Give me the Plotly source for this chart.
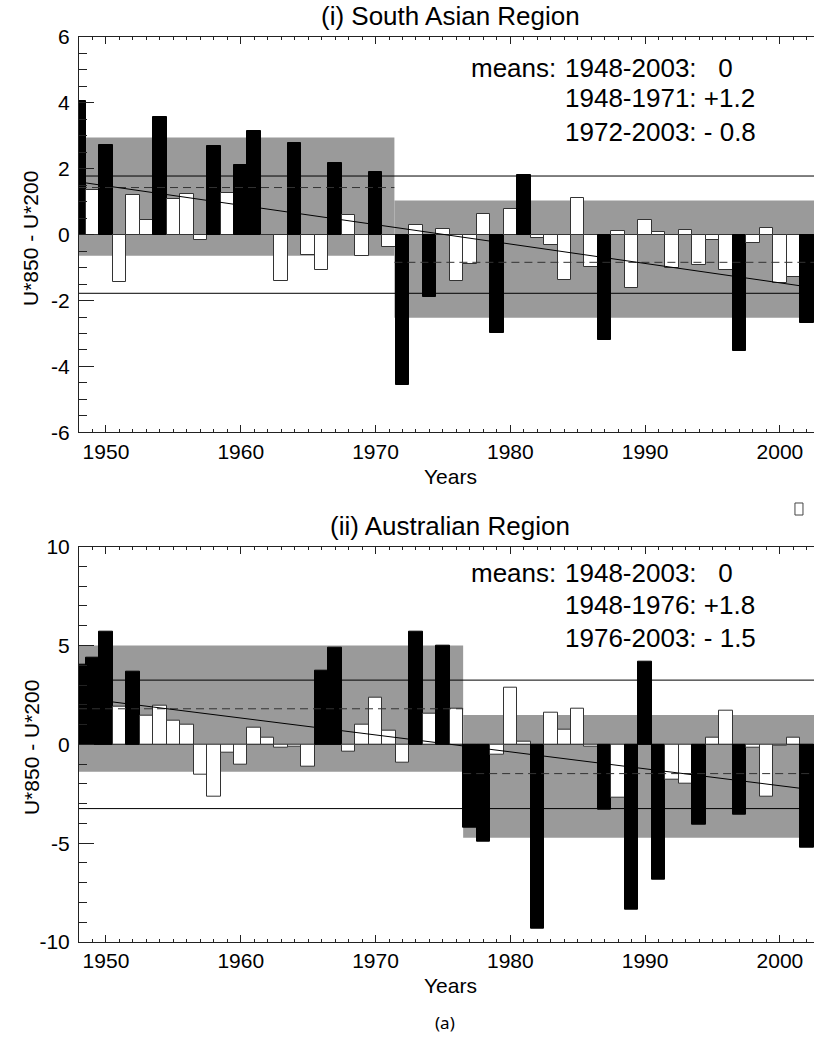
import plotly.graph_objects as go

# ---------------- data ----------------
years = list(range(1948, 2003))

sa_values = [4.05, 1.37, 2.71, -1.45, 1.21, 0.46, 3.57, 1.07, 1.23, -0.16,
             2.69, 1.26, 2.10, 3.14, 0.00, -1.41, 2.77, -0.63, -1.06, 2.18,
             0.59, -0.65, 1.91, -0.38, -4.55, 0.30, -1.90, 0.16, -1.42, -0.90,
             0.63, -2.99, 0.79, 1.80, -0.09, -0.30, -1.39, 1.11, -0.97, -3.19,
             0.12, -1.63, 0.44, 0.09, -1.02, 0.14, -0.93, -0.15, -1.07, -3.54,
             -0.26, 0.20, -1.47, -1.29, -2.68]
sa_sd = 1.78
sa_period_edges = [1948, 1971.4, 2003]
sa_box_top = [2.95, 1.04]
sa_box_bottom = [-0.64, -2.52]
sa_period_mean_lines = [1.43, -0.84]
sa_trend_years = [1948, 2003]
sa_trend_values = [1.60, -1.64]
sa_yticks = [6, 4, 2, 0, -2, -4, -6]
sa_yticktext = ["6", "4", "2", "0", "-2", "-4", "-6"]
sa_means_text = ["1948-2003:\u00a0\u00a0\u00a00", "1948-1971: +1.2", "1972-2003: - 0.8"]

au_values = [4.01, 4.38, 5.69, 1.92, 3.67, 1.45, 1.95, 1.21, 0.99, -1.52,
             -2.66, -0.44, -1.03, 0.86, 0.34, -0.17, -0.12, -1.11, 3.72, 4.87,
             -0.39, 1.01, 2.34, 0.71, -0.93, 5.69, 1.53, 4.98, 1.80, -4.24,
             -4.92, -0.50, 2.88, 0.13, -9.34, 1.62, 0.72, 1.82, -0.12, -3.33,
             -2.71, -8.37, 4.16, -6.85, -1.77, -1.97, -4.04, 0.35, 1.70, -3.57,
             -0.19, -2.66, -0.05, 0.34, -5.22]
au_sd = 3.25
au_period_edges = [1948, 1976.5, 2003]
au_box_top = [5.00, 1.48]
au_box_bottom = [-1.38, -4.72]
au_period_mean_lines = [1.80, -1.48]
au_trend_years = [1948, 2003]
au_trend_values = [2.36, -2.35]
au_yticks = [10, 5, 0, -5, -10]
au_yticktext = ["10", "5", "0", "-5", "-10"]
au_means_text = ["1948-2003:\u00a0\u00a0\u00a00", "1948-1976: +1.8", "1976-2003: - 1.5"]

titles = ["(i) South Asian Region", "(ii) Australian Region"]
x_title = "Years"
y_title = "U*850 - U*200"
caption = "(a)"

# ---------------- figure ----------------
FONT = "Liberation Sans, Arial, Helvetica, sans-serif"
AX = "#222222"
GREY = "#9a9a9a"

fig = go.Figure()

panels = [
    dict(vals=sa_values, sd=sa_sd, edges=sa_period_edges, top=sa_box_top, bot=sa_box_bottom,
         means=sa_period_mean_lines, ty=sa_trend_years, tv=sa_trend_values, xa="x", ya="y"),
    dict(vals=au_values, sd=au_sd, edges=au_period_edges, top=au_box_top, bot=au_box_bottom,
         means=au_period_mean_lines, ty=au_trend_years, tv=au_trend_values, xa="x2", ya="y2"),
]

shapes = []
for p in panels:
    fills = ["black" if abs(v) > p["sd"] else "white" for v in p["vals"]]
    edges = ["black" if abs(v) > p["sd"] else "#333333" for v in p["vals"]]
    # grey +-1 sd boxes around each period mean
    for i in range(2):
        shapes.append(dict(type="rect", xref=p["xa"], yref=p["ya"], layer="below",
                           x0=p["edges"][i], x1=p["edges"][i + 1],
                           y0=p["bot"][i], y1=p["top"][i],
                           fillcolor=GREY, line=dict(width=0)))
    fig.add_trace(go.Bar(x=years, y=p["vals"], width=1,
                         marker=dict(color=fills, line=dict(color=edges, width=1)),
                         xaxis=p["xa"], yaxis=p["ya"], showlegend=False))
    for s in (p["sd"], -p["sd"]):
        fig.add_trace(go.Scatter(x=[p["edges"][0], p["edges"][-1]], y=[s, s], mode="lines",
                                 line=dict(color="black", width=1),
                                 xaxis=p["xa"], yaxis=p["ya"], showlegend=False))
    for i in range(2):
        fig.add_trace(go.Scatter(x=[p["edges"][i], p["edges"][i + 1]],
                                 y=[p["means"][i], p["means"][i]], mode="lines",
                                 line=dict(color="#333333", width=1, dash="8px,5px"),
                                 xaxis=p["xa"], yaxis=p["ya"], showlegend=False))
    fig.add_trace(go.Scatter(x=p["ty"], y=p["tv"], mode="lines",
                             line=dict(color="black", width=1),
                             xaxis=p["xa"], yaxis=p["ya"], showlegend=False))

# small empty glyph box between the panels
shapes.append(dict(type="rect", xref="paper", yref="paper",
                   x0=0.9741, x1=0.9850, y0=0.4718, y1=0.4851,
                   line=dict(color="#444444", width=1), fillcolor="rgba(0,0,0,0)"))

xaxis_common = dict(range=[1948, 2002.53], showline=True, linecolor=AX, linewidth=1,
                    mirror="ticks", ticks="inside", ticklen=7, tickcolor=AX, tickwidth=1,
                    tick0=1950, dtick=10, showgrid=False, zeroline=False,
                    minor=dict(dtick=1, ticklen=3, ticks="inside", tickcolor=AX, tickwidth=1,
                               showgrid=False),
                    tickfont=dict(family=FONT, size=21, color="black"),
                    ticklabelstandoff=0)
yaxis_common = dict(showline=True, linecolor=AX, linewidth=1, mirror=False,
                    ticks="inside", ticklen=15, tickcolor=AX, tickwidth=1,
                    showgrid=False, zeroline=True, zerolinecolor=AX, zerolinewidth=1,
                    tickmode="array",
                    tickfont=dict(family=FONT, size=21, color="black"),
                    ticklabelstandoff=4)

fig.update_layout(
    width=814, height=1037,
    margin=dict(l=79, r=0, t=37, b=95, pad=0),
    paper_bgcolor="white", plot_bgcolor="white",
    bargap=0, showlegend=False,
    shapes=shapes,
    xaxis=dict(xaxis_common, anchor="y", domain=[0, 1]),
    xaxis2=dict(xaxis_common, anchor="y2", domain=[0, 1]),
    yaxis=dict(yaxis_common, anchor="x", domain=[0.5632, 1], range=[-6, 6],
               tickvals=sa_yticks, ticktext=sa_yticktext,
               minor=dict(dtick=0.5, ticklen=8, ticks="inside", tickcolor=AX, showgrid=False)),
    yaxis2=dict(yaxis_common, anchor="x2", domain=[0, 0.4368], range=[-10, 10],
                tickvals=au_yticks, ticktext=au_yticktext,
                minor=dict(dtick=1, ticklen=8, ticks="inside", tickcolor=AX, showgrid=False)),
)

ann = []
def add_text(text, x, y, size, xanchor="center", yanchor="middle", angle=0, family=FONT):
    ann.append(dict(text=text, x=x, y=y, xref="paper", yref="paper", showarrow=False,
                    xanchor=xanchor, yanchor=yanchor, textangle=angle, borderpad=0,
                    font=dict(family=family, size=size, color="black")))

# panel titles
add_text(titles[0], 0.5048, 1.0232, 26)
add_text(titles[1], 0.5048, 0.4597, 26)
# x titles
add_text(x_title, 0.5048, 0.5149, 21)
add_text(x_title, 0.5048, -0.0486, 21)
# y titles
add_text(y_title, -0.0653, 0.7768, 21, angle=-90)
add_text(y_title, -0.0653, 0.2143, 21, angle=-90)
# means text
for ys, texts in (([0.9657, 0.9323, 0.8953], sa_means_text),
                  ([0.4074, 0.3720, 0.3361], au_means_text)):
    add_text("means:", 0.6503, ys[0], 26, xanchor="right")
    for yy, t in zip(ys, texts):
        add_text(t, 0.6599, yy, 26, xanchor="left")
# caption
add_text(caption, 0.498, -0.0895, 17, family="Noto Sans, Open Sans, sans-serif")

fig.update_layout(annotations=ann)
fig.write_html("out.html")
